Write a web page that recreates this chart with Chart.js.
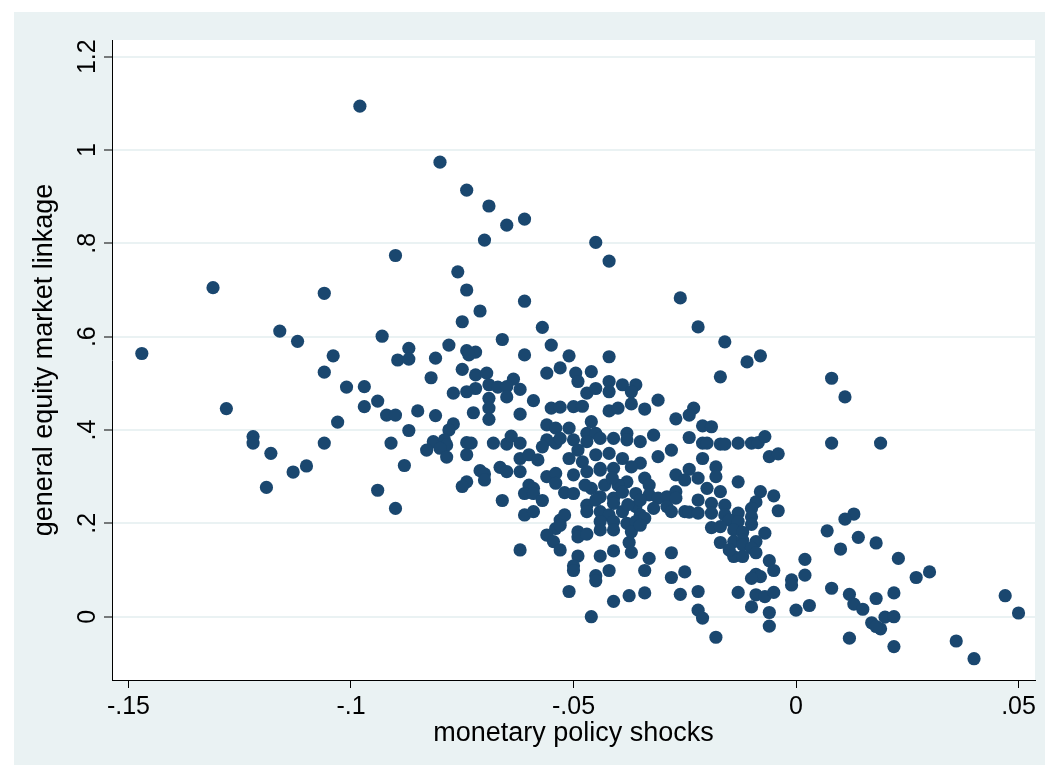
<!DOCTYPE html>
<html>
<head>
<meta charset="utf-8">
<script src="https://cdn.jsdelivr.net/npm/chart.js@4/dist/chart.umd.min.js"></script>
<style>
  body { margin: 0; background: #ffffff; }
  #wrap { position: relative; width: 1051px; height: 775px; }
</style>
</head>
<body>
<div id="wrap"><canvas id="linkageChart" width="1051" height="775"></canvas></div>
<script>
// monetary policy shocks (x) and general equity market linkage (y)
const shockX = [
  -0.147,-0.131,-0.128,-0.122,-0.122,-0.119,-0.118,-0.116,-0.113,-0.112,
  -0.110,-0.106,-0.106,-0.106,-0.104,-0.103,-0.101,-0.098,-0.097,-0.097,
  -0.094,-0.094,-0.093,-0.092,-0.091,-0.090,-0.090,-0.090,-0.0895,-0.088,
  -0.087,-0.087,-0.087,-0.080,-0.074,-0.069,-0.065,-0.061,-0.070,-0.045,
  -0.042,-0.076,-0.074,-0.061,-0.071,-0.075,-0.057,-0.026,-0.022,-0.078,
  -0.066,-0.055,-0.081,-0.074,-0.072,-0.0735,-0.061,-0.082,-0.075,-0.072,
  -0.0695,-0.056,-0.053,-0.0635,-0.069,-0.067,-0.065,-0.062,-0.072,-0.077,
  -0.074,-0.065,-0.069,-0.059,-0.055,-0.085,-0.081,-0.0725,-0.069,-0.069,
  -0.062,-0.077,-0.078,-0.056,-0.054,-0.0815,-0.083,-0.079,-0.0785,-0.080,
  -0.074,-0.073,-0.074,-0.0785,-0.068,-0.065,-0.064,-0.062,-0.056,-0.054,
  -0.057,-0.062,-0.060,-0.058,-0.0665,-0.065,-0.062,-0.071,-0.070,-0.074,
  -0.075,-0.060,-0.059,-0.056,-0.054,-0.054,-0.070,-0.066,-0.061,-0.059,
  -0.057,-0.052,-0.061,-0.059,-0.053,-0.054,-0.056,-0.0545,-0.053,-0.062,
  -0.051,-0.051,-0.042,-0.0495,-0.049,-0.046,-0.042,-0.047,-0.045,-0.042,
  -0.039,-0.036,-0.037,-0.053,-0.050,-0.048,-0.042,-0.040,-0.037,-0.034,
  -0.031,-0.027,-0.046,-0.051,-0.047,-0.045,-0.041,-0.038,-0.032,-0.053,
  -0.050,-0.047,-0.044,-0.038,-0.035,-0.028,-0.031,-0.051,-0.048,-0.045,
  -0.042,-0.039,-0.035,-0.037,-0.050,-0.047,-0.044,-0.041,-0.027,-0.034,
  -0.033,-0.038,-0.050,-0.046,-0.043,-0.040,-0.036,-0.033,-0.031,-0.044,
  -0.041,-0.029,-0.027,-0.047,-0.047,-0.041,-0.036,-0.035,-0.032,-0.029,
  -0.028,-0.025,-0.039,-0.044,-0.042,-0.052,-0.053,-0.044,-0.041,-0.038,
  -0.036,-0.034,-0.049,-0.044,-0.041,-0.037,-0.049,-0.047,-0.035,-0.0375,
  -0.037,-0.041,-0.044,-0.049,-0.050,-0.050,-0.033,-0.028,-0.045,-0.045,
  -0.042,-0.034,-0.028,-0.025,-0.0375,-0.034,-0.041,-0.026,-0.046,-0.016,
  -0.011,-0.008,-0.017,-0.023,-0.024,-0.021,-0.019,-0.024,-0.021,-0.020,
  -0.017,-0.016,-0.013,-0.010,-0.0085,-0.007,-0.021,-0.006,-0.004,-0.024,
  -0.018,-0.018,-0.025,-0.022,-0.013,-0.020,-0.027,-0.017,-0.008,-0.005,
  -0.022,-0.019,-0.016,-0.009,-0.010,-0.004,-0.024,-0.022,-0.019,-0.016,
  -0.013,-0.010,-0.015,-0.013,-0.010,-0.019,-0.017,-0.014,-0.012,-0.007,
  -0.017,-0.014,-0.012,-0.009,-0.012,-0.010,-0.014,-0.012,-0.015,-0.009,
  -0.006,-0.005,-0.009,-0.008,-0.010,-0.001,-0.001,-0.022,-0.013,-0.009,
  -0.007,-0.005,-0.010,-0.022,-0.021,-0.006,0.000,-0.006,-0.018,0.008,
  0.011,0.008,0.019,0.013,0.011,0.007,0.014,0.018,0.010,0.002,
  0.023,0.002,0.027,0.030,0.008,0.012,0.013,0.015,0.018,0.022,
  0.003,0.020,0.022,0.017,0.019,0.018,0.012,0.022,0.036,0.040,
  0.047,0.050,
  // dense core, -.05 to -.03
  -0.044,-0.0413,-0.039,-0.045,-0.0378,-0.0474,-0.035,-0.049
];
const linkageY = [
  0.564,0.705,0.446,0.386,0.372,0.277,0.350,0.612,0.310,0.590,
  0.323,0.693,0.524,0.372,0.559,0.417,0.492,1.094,0.493,0.450,
  0.462,0.271,0.601,0.432,0.372,0.232,0.432,0.774,0.550,0.324,
  0.575,0.552,0.399,0.974,0.914,0.880,0.839,0.852,0.807,0.802,
  0.762,0.739,0.700,0.676,0.655,0.632,0.620,0.683,0.621,0.582,
  0.594,0.582,0.554,0.570,0.567,0.561,0.561,0.512,0.530,0.518,
  0.522,0.522,0.533,0.509,0.497,0.492,0.493,0.487,0.489,0.479,
  0.482,0.471,0.468,0.463,0.447,0.441,0.431,0.437,0.447,0.423,
  0.434,0.413,0.400,0.411,0.404,0.375,0.357,0.379,0.368,0.361,
  0.373,0.372,0.347,0.342,0.372,0.370,0.387,0.372,0.379,0.372,
  0.364,0.339,0.347,0.336,0.320,0.311,0.311,0.313,0.306,0.289,
  0.279,0.282,0.275,0.300,0.307,0.286,0.293,0.249,0.264,0.264,
  0.249,0.266,0.218,0.225,0.207,0.189,0.175,0.161,0.143,0.143,
  0.054,0.559,0.557,0.522,0.504,0.525,0.504,0.479,0.489,0.482,
  0.497,0.497,0.482,0.449,0.450,0.451,0.441,0.447,0.456,0.445,
  0.464,0.424,0.418,0.404,0.393,0.393,0.382,0.393,0.389,0.382,
  0.379,0.375,0.382,0.379,0.375,0.357,0.343,0.339,0.332,0.347,
  0.350,0.339,0.329,0.321,0.304,0.311,0.318,0.318,0.304,0.297,
  0.282,0.289,0.264,0.275,0.282,0.282,0.264,0.261,0.254,0.257,
  0.254,0.257,0.268,0.239,0.225,0.243,0.236,0.218,0.232,0.236,
  0.225,0.225,0.225,0.225,0.218,0.218,0.196,0.204,0.204,0.200,
  0.204,0.211,0.182,0.186,0.186,0.182,0.171,0.177,0.196,0.159,
  0.138,0.141,0.130,0.130,0.109,0.099,0.125,0.137,0.088,0.077,
  0.099,0.099,0.084,0.096,0.045,0.051,0.033,0.048,0.000,0.589,
  0.546,0.559,0.514,0.447,0.432,0.409,0.407,0.384,0.372,0.372,
  0.370,0.370,0.372,0.372,0.373,0.386,0.339,0.343,0.349,0.316,
  0.321,0.300,0.293,0.297,0.289,0.275,0.254,0.268,0.268,0.259,
  0.250,0.243,0.239,0.246,0.232,0.227,0.224,0.222,0.222,0.218,
  0.222,0.214,0.207,0.204,0.198,0.191,0.193,0.186,0.181,0.179,
  0.159,0.161,0.164,0.161,0.154,0.147,0.129,0.129,0.143,0.137,
  0.120,0.099,0.091,0.086,0.082,0.079,0.068,0.054,0.052,0.047,
  0.043,0.052,0.021,0.014,-0.003,0.009,0.014,-0.020,-0.044,0.511,
  0.471,0.372,0.372,0.220,0.209,0.184,0.170,0.158,0.145,0.123,
  0.125,0.089,0.084,0.096,0.061,0.048,0.027,0.016,0.039,0.051,
  0.024,-0.001,0.000,-0.013,-0.026,-0.021,-0.046,-0.064,-0.052,-0.090,
  0.045,0.008,
  // dense core
  0.314,0.297,0.267,0.250,0.240,0.282,0.250,0.357
];

// axis ticks, Stata style labels
const xTicks = [-0.15, -0.1, -0.05, 0, 0.05];
const xTickLabels = ['-.15', '-.1', '-.05', '0', '.05'];
const yTicks = [0, 0.2, 0.4, 0.6, 0.8, 1, 1.2];
const yTickLabels = ['0', '.2', '.4', '.6', '.8', '1', '1.2'];

const xTitle = 'monetary policy shocks';
const yTitle = 'general equity market linkage';

const FONT = '"Liberation Sans", Arial, sans-serif';
const NAVY = '#1a476f';
const BLUISH = '#eaf2f3';

// background frame + white plot region, then hand-placed tick labels / titles
const stataLook = {
    id: 'stataLook',
    beforeDraw(chart) {
        const { ctx, chartArea } = chart;
        ctx.save();
        ctx.fillStyle = BLUISH;
        ctx.fillRect(14, 12, 1031, 753);
        ctx.fillStyle = '#ffffff';
        ctx.fillRect(chartArea.left, chartArea.top,
                     chartArea.right - chartArea.left, chartArea.bottom - chartArea.top);
        ctx.restore();
    },
    afterDraw(chart) {
        const { ctx, chartArea, scales } = chart;
        ctx.save();
        ctx.fillStyle = '#000000';

        // x tick labels
        ctx.font = '25px ' + FONT;
        ctx.textAlign = 'center';
        ctx.textBaseline = 'middle';
        xTicks.forEach((v, i) => {
            ctx.fillText(xTickLabels[i], scales.x.getPixelForValue(v), chartArea.bottom + 27);
        });

        // y tick labels, rotated
        yTicks.forEach((v, i) => {
            ctx.save();
            ctx.translate(chartArea.left - 11, scales.y.getPixelForValue(v));
            ctx.rotate(-Math.PI / 2);
            ctx.textAlign = 'center';
            ctx.textBaseline = 'bottom';
            ctx.fillText(yTickLabels[i], 0, 0);
            ctx.restore();
        });

        // axis titles
        ctx.font = '27px ' + FONT;
        ctx.textAlign = 'center';
        ctx.textBaseline = 'middle';
        ctx.fillText(xTitle, (chartArea.left + chartArea.right) / 2, chartArea.bottom + 54);

        ctx.save();
        ctx.translate(chartArea.left - 67, (chartArea.top + chartArea.bottom) / 2);
        ctx.rotate(-Math.PI / 2);
        ctx.fillText(yTitle, 0, 0);
        ctx.restore();

        ctx.restore();
    }
};

const points = shockX.map((x, i) => ({ x: x, y: linkageY[i] }));

const ctx = document.getElementById('linkageChart').getContext('2d');
const linkageChart = new Chart(ctx, {
    type: 'scatter',
    data: {
        datasets: [{
            label: 'linkage',
            data: points,
            backgroundColor: NAVY,
            borderColor: NAVY,
            borderWidth: 0,
            pointRadius: 6.6,
            pointHoverRadius: 6.6
        }]
    },
    options: {
        responsive: false,
        animation: false,
        devicePixelRatio: 1,
        events: [],
        layout: {
            autoPadding: false,
            padding: { left: 0, top: 40, right: 16, bottom: 0 }
        },
        plugins: {
            legend: { display: false },
            tooltip: { enabled: false }
        },
        scales: {
            x: {
                type: 'linear',
                min: -0.1537,
                max: 0.0537,
                afterBuildTicks: s => { s.ticks = xTicks.map(v => ({ value: v })); },
                afterFit: s => { s.height = 95; },
                ticks: { display: false },
                grid: {
                    drawOnChartArea: false,
                    drawTicks: true,
                    tickLength: 8,
                    tickColor: '#000000',
                    tickWidth: 1
                },
                border: { display: true, color: '#000000', width: 1 }
            },
            y: {
                type: 'linear',
                min: -0.1356,
                max: 1.2357,
                afterBuildTicks: s => { s.ticks = yTicks.map(v => ({ value: v })); },
                afterFit: s => { s.width = 112; },
                ticks: { display: false },
                grid: {
                    color: BLUISH,
                    lineWidth: 2,
                    drawTicks: true,
                    tickLength: 8,
                    tickColor: '#000000',
                    tickWidth: 1
                },
                border: { display: true, color: '#000000', width: 1 }
            }
        }
    },
    plugins: [stataLook]
});
</script>
</body>
</html>
